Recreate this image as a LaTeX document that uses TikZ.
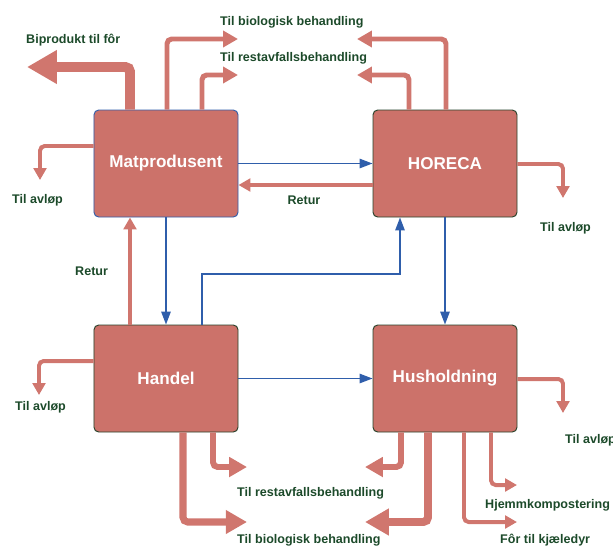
\documentclass[tikz,border=0pt]{standalone}
\usepackage{fontspec}
\setmainfont{Liberation Sans}
\usetikzlibrary{arrows.meta}

\definecolor{boxfill}{RGB}{204,114,106}
\definecolor{flowpink}{RGB}{208,118,110}
\definecolor{flowblue}{RGB}{47,94,171}
\definecolor{labelgreen}{RGB}{28,74,42}
\definecolor{boxedge}{RGB}{38,66,42}

\tikzset{
  actor/.style={rectangle, rounded corners=4pt, fill=boxfill, draw=boxedge, line width=0.8pt,
    minimum width=4.32cm, minimum height=3.21cm, text=white,
    font=\fontsize{14.6}{16}\selectfont\bfseries},
  lbl/.style={text=labelgreen, font=\fontsize{10.7}{12}\selectfont\bfseries, inner sep=0pt, anchor=west},
  goods/.style={draw=flowblue, line width=1.3pt, -{Triangle[length=11pt,width=8pt]}},
  waste/.style={draw=flowpink, line width=#1, rounded corners=4pt,
    -{Triangle[length=0pt 3, width=0pt 3.2]}}
}

\begin{document}
\begin{tikzpicture}[x=0.03cm, y=-0.03cm]
\useasboundingbox (0,0) rectangle (613,547);

% actors
\node[actor, draw=flowblue] (mat) at (166,163.5) {Matprodusent};
\node[actor] (horeca) at (445,163.5) {HORECA};
\node[actor] (handel) at (166,378.5) {Handel};
\node[actor] (hush) at (445,378.5) {Husholdning};

% bend points and free ends
\coordinate (forbend) at (130,67);   \coordinate (fortip) at (27,67);
\coordinate (mbiobend) at (167,39);  \coordinate (mbiotip) at (238,39);
\coordinate (mrestbend) at (202,75); \coordinate (mresttip) at (238,75);
\coordinate (hbiobend) at (446,39);  \coordinate (hbiotip) at (357,39);
\coordinate (hrestbend) at (409,75); \coordinate (hresttip) at (357,75);
\coordinate (mavbend) at (40,146);   \coordinate (mavtip) at (40,180);
\coordinate (havbend) at (563,164);  \coordinate (havtip) at (563,198);
\coordinate (davbend) at (39,361);   \coordinate (davtip) at (39,395);
\coordinate (uavbend) at (563,379);  \coordinate (uavtip) at (563,413);
\coordinate (drestbend) at (213,467); \coordinate (dresttip) at (247,467);
\coordinate (dbiobend) at (183,522);  \coordinate (dbiotip) at (247,522);
\coordinate (urestbend) at (401,467); \coordinate (uresttip) at (365,467);
\coordinate (ubiobend) at (428,522);  \coordinate (ubiotip) at (365,522);
\coordinate (ukjbend) at (464,522);   \coordinate (ukjtip) at (517,522);
\coordinate (ukompbend) at (491,485); \coordinate (ukomptip) at (517,485);
\coordinate (returh) at (300,185);
\coordinate (returv) at (130,270);
\coordinate (lanebend1) at (202,274);
\coordinate (lanebend2) at (400,274);

% flows of goods
\draw[goods] (mat.east) -- (horeca.west);
\draw[goods] (mat.south) -- (handel.north);
\draw[goods] (horeca.south) -- (hush.north);
\draw[goods] (handel.east) -- (hush.west);
\draw[goods] (handel.north -| lanebend1) -- (lanebend1) -- (lanebend2) -- (horeca.south -| lanebend2);

% returns
\draw[waste=3.4pt] (horeca.west |- returh) -- (mat.east |- returh);
\draw[waste=3.4pt] (handel.north -| returv) -- (mat.south -| returv);

% waste streams
\draw[waste=8.5pt] (mat.north -| forbend) -- (forbend) -- (fortip);
\draw[waste=4.25pt] (mat.north -| mbiobend) -- (mbiobend) -- (mbiotip);
\draw[waste=4.25pt] (mat.north -| mrestbend) -- (mrestbend) -- (mresttip);
\draw[waste=4.25pt] (horeca.north -| hbiobend) -- (hbiobend) -- (hbiotip);
\draw[waste=4.25pt] (horeca.north -| hrestbend) -- (hrestbend) -- (hresttip);
\draw[waste=3.4pt] (mat.west |- mavbend) -- (mavbend) -- (mavtip);
\draw[waste=3.4pt] (horeca.east |- havbend) -- (havbend) -- (havtip);
\draw[waste=3.4pt] (handel.west |- davbend) -- (davbend) -- (davtip);
\draw[waste=3.4pt] (hush.east |- uavbend) -- (uavbend) -- (uavtip);
\draw[waste=5.1pt] (handel.south -| drestbend) -- (drestbend) -- (dresttip);
\draw[waste=6pt] (handel.south -| dbiobend) -- (dbiobend) -- (dbiotip);
\draw[waste=5.1pt] (hush.south -| urestbend) -- (urestbend) -- (uresttip);
\draw[waste=6.8pt] (hush.south -| ubiobend) -- (ubiobend) -- (ubiotip);
\draw[waste=3.4pt] (hush.south -| ukjbend) -- (ukjbend) -- (ukjtip);
\draw[waste=3.4pt] (hush.south -| ukompbend) -- (ukompbend) -- (ukomptip);

% labels
\node[lbl] (lfor) at (26,40) {Biprodukt til fôr};
\node[lbl] (lmbio) at (220,22) {Til biologisk behandling};
\node[lbl] (lmrest) at (220,58) {Til restavfallsbehandling};
\node[lbl] (lmav) at (12,200) {Til avløp};
\node[lbl, anchor=center] (lreth) at (304,200) {Retur};
\node[lbl] (lretv) at (75,271) {Retur};
\node[lbl] (lhav) at (540,228) {Til avløp};
\node[lbl] (ldav) at (15,407) {Til avløp};
\node[lbl] (luav) at (565,440) {Til avløp};
\node[lbl] (ldrest) at (237,493) {Til restavfallsbehandling};
\node[lbl] (ldbio) at (237,540) {Til biologisk behandling};
\node[lbl] (lukomp) at (485,505) {Hjemmkompostering};
\node[lbl] (lukj) at (500,540) {Fôr til kjæledyr};
\end{tikzpicture}
\end{document}
